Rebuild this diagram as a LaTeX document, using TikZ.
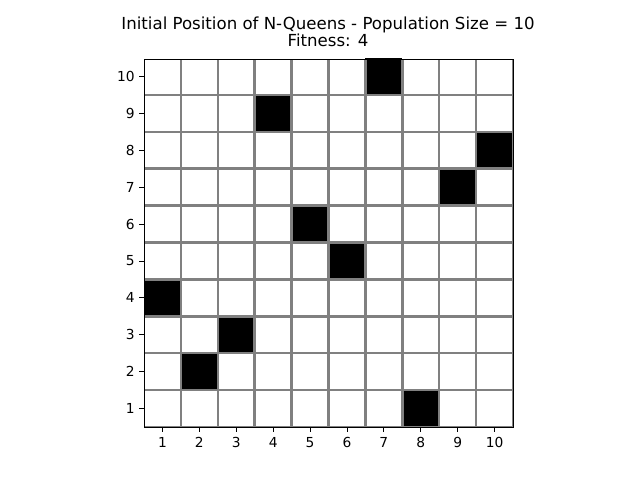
\documentclass[tikz,border=0pt]{standalone}
\usepackage{fontspec}
\setmainfont{DejaVu Sans}
\usepackage{xcolor}
\definecolor{gridgrey}{HTML}{808080}
\newcommand{\cellw}{36.9}

\begin{document}
\begin{tikzpicture}[x=0.025cm,y=-0.025cm,
  gridline/.style={draw=gridgrey,line width=0.062cm},
  queen/.style={fill=black},
  frame/.style={draw=black,line width=0.6pt},
  tickmark/.style={draw=black,line width=0.6pt},
  ticklab/.style={font=\fontsize{9.8}{11}\selectfont,inner sep=0pt},
]
\useasboundingbox (0,0) rectangle (640,480);

% title
\node[align=center,font=\fontsize{11.8}{10.6}\selectfont,anchor=south,inner sep=0pt]
  (title) at (328,47.5) {Initial Position of N-Queens - Population Size = 10\\Fitness: 4};

% queens (column/row)
\foreach \c/\r in {1/4,2/2,3/3,4/9,5/6,6/5,7/10,8/1,9/7,10/8}
  \fill[queen] ({144+(\c-1)*\cellw},{427-(\r-1)*\cellw}) rectangle
               ({144+\c*\cellw},{427-\r*\cellw});

% board lines, clipped to the board
\begin{scope}
\clip (144,59) rectangle (513,427);
\foreach \i in {0,...,10} {
  \draw[gridline] ({144+\i*\cellw},59) -- ({144+\i*\cellw},427);
  \draw[gridline] (144,{427-\i*\cellw}) -- (513,{427-\i*\cellw});
}
\end{scope}
\draw[frame] (144,59) rectangle (513,427);

% ticks and labels
\foreach \i in {1,...,10} {
  \draw[tickmark] ({144+(\i-0.5)*\cellw},427) -- ({144+(\i-0.5)*\cellw},432);
  \node[ticklab,anchor=north] (xl\i) at ({144+(\i-0.5)*\cellw},437) {\i};
  \draw[tickmark] (144,{427-(\i-0.5)*\cellw}) -- (139,{427-(\i-0.5)*\cellw});
  \node[ticklab,anchor=east] (yl\i) at (135,{427-(\i-0.5)*\cellw}) {\i};
}
\end{tikzpicture}
\end{document}
